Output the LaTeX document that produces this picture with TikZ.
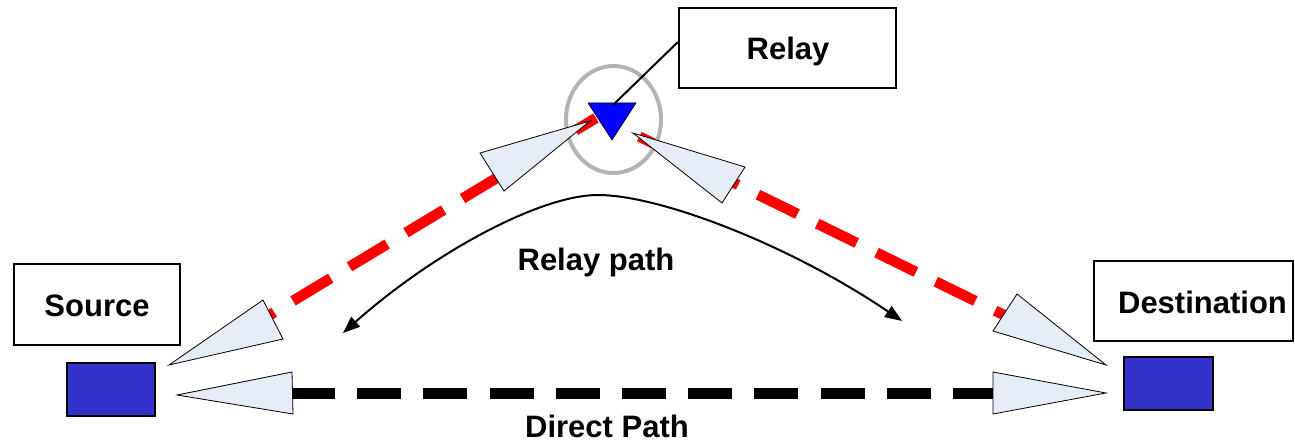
\documentclass[tikz,border=0pt]{standalone}
\usepackage{fontspec}
\setmainfont{Liberation Sans}
\usetikzlibrary{arrows.meta,calc}
\definecolor{coneblue}{HTML}{E6ECF6}
\definecolor{boxblue}{HTML}{3333CC}
\definecolor{ringgray}{HTML}{B3B3B3}
\begin{document}
\begin{tikzpicture}[x=1pt,y=-1pt,
  lbl/.style={font=\fontsize{31}{36}\selectfont\bfseries, inner sep=0pt},
  labelbox/.style={draw, line width=2.2pt, fill=white, inner sep=0pt},
  station/.style={draw, line width=2pt, fill=boxblue, inner sep=0pt},
  cone/.style={draw=black, line width=0.8pt, fill=coneblue, line join=miter},
  reddash/.style={red, line width=10.5pt, dash pattern=on 44pt off 22pt},
  blackdash/.style={black, line width=10.5pt, dash pattern=on 44pt off 22.2pt},
  pathline/.style={line width=2pt, {Triangle[length=17pt,width=13pt]}-{Triangle[length=17pt,width=13pt]}}]
\useasboundingbox (0,0) rectangle (1295,441);

% coordinates
\coordinate (srcR) at (268,316);
\coordinate (relL) at (596,118);
\coordinate (relR) at (632,133);
\coordinate (dstR) at (1008,317);
\coordinate (srcD) at (291,393.5);
\coordinate (dstD) at (993,393.5);
\coordinate (rpS) at (343,333);
\coordinate (rpT) at (598,195);
\coordinate (rpE) at (902,321);

% red dashed relay links
\draw[reddash, dash phase=36.8pt] (srcR) -- (relL);
\draw[reddash, dash phase=57.8pt] (relR) -- (dstR);
% black dashed direct link
\draw[blackdash] (srcD) -- (dstD);

% relay path curve
\draw[pathline] (rpS) .. controls (433,253) and (540,195) .. (rpT)
  .. controls (660,195) and (790,245) .. (rpE);

% ring around relay
\draw[ringgray, line width=4pt] (613.5,119.5) ellipse [x radius=47.5, y radius=53.5];

% cones
\filldraw[cone] (590,121) -- (480,153) -- (504,191) -- cycle;
\filldraw[cone] (633,133) -- (745,167) -- (722,203) -- cycle;
\filldraw[cone] (169,365) -- (263,300) -- (283,339) -- cycle;
\filldraw[cone] (177,395) -- (292,372) -- (293,414) -- cycle;
\filldraw[cone] (1106,365) -- (1017,294) -- (993,331) -- cycle;
\filldraw[cone] (1106,393) -- (993,372) -- (993,414) -- cycle;

% relay triangle
\filldraw[fill=blue, draw=black, line width=0.6pt] (588,103) -- (636,103) -- (612,140) -- cycle;
\coordinate (relaytop) at (613,105);

% stations
\node[station, minimum width=88pt, minimum height=53pt] (src) at (111,389.5) {};
\node[station, minimum width=89pt, minimum height=53pt] (dst) at (1168.5,383.5) {};

% label boxes
\node[labelbox, minimum width=217pt, minimum height=80pt] (relaybox) at (787.5,48) {};
\node[labelbox, minimum width=166pt, minimum height=81pt] (srcbox) at (97,304.5) {};
\node[labelbox, minimum width=199pt, minimum height=80pt] (dstbox) at (1193.5,301) {};

\draw[line width=2pt] ($(relaybox.west)+(0,-6)$) -- (relaytop);

% texts
\node[lbl, anchor=base] (relaytxt) at (788,60) {Relay};
\node[lbl, anchor=base] (srctxt) at (97,316) {Source};
\node[lbl, anchor=base] (dsttxt) at (1202.5,313) {Destination};
\node[lbl, anchor=base] (rptxt) at (596,270) {Relay path};
\node[lbl, anchor=base] (dptxt) at (607,437) {Direct Path};
\end{tikzpicture}
\end{document}
